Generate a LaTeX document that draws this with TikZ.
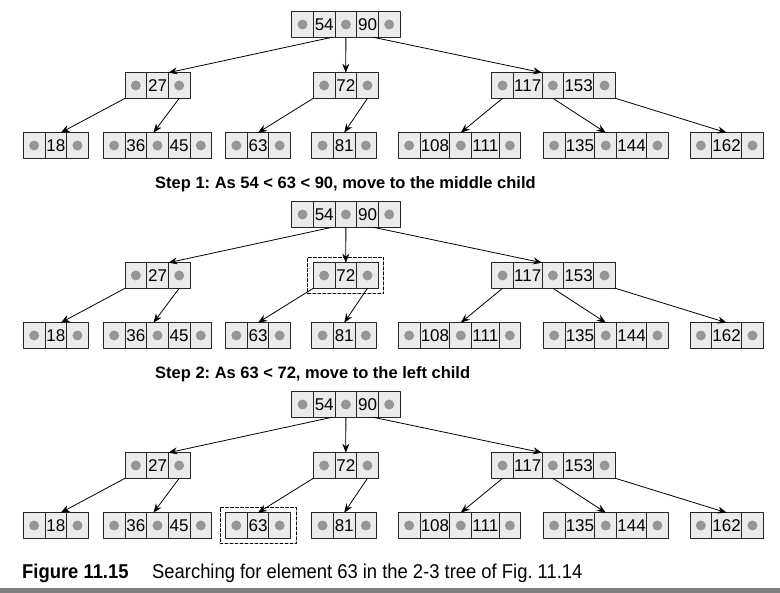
\documentclass[tikz,border=0pt]{standalone}
\usepackage{fontspec}
\setmainfont{Liberation Sans}
\newfontfamily\capfont[FakeStretch=0.92]{Liberation Sans}
\usepackage{tikz}
\usetikzlibrary{arrows.meta,positioning,fit}
\definecolor{cellfill}{RGB}{235,235,235}
\definecolor{dotgray}{RGB}{150,150,150}
\definecolor{rulegray}{RGB}{128,128,128}
\frenchspacing

\tikzset{
  cell/.style={draw=black!85, fill=cellfill, line width=0.9pt,
    minimum width=21.67pt, minimum height=25.6pt,
    inner xsep=0.8pt, inner ysep=0pt, outer sep=0pt,
    font=\fontsize{17}{19}\selectfont},
  ptr/.style={cell, path picture={\fill[dotgray] (path picture bounding box.center) circle (5pt);}},
  link/.style={-{Stealth[length=9pt,width=7pt]}, line width=0.8pt},
  hilite/.style={draw, dash pattern=on 3pt off 2pt, line width=0.9pt, inner sep=5.5pt},
  steptext/.style={font=\fontsize{16.5}{19}\selectfont\bfseries, inner sep=0pt},
}

% node with one key: name, left, top, key
\newcommand{\onekey}[4]{%
  \node[ptr, anchor=north west] (#1-p1) at (#2,#3) {};
  \node[cell, right=0pt of #1-p1] (#1-k1) {#4};
  \node[ptr, right=0pt of #1-k1] (#1-p2) {};
}
% node with two keys: name, left, top, key1, key2
\newcommand{\twokey}[5]{%
  \node[ptr, anchor=north west] (#1-p1) at (#2,#3) {};
  \node[cell, right=0pt of #1-p1] (#1-k1) {#4};
  \node[ptr, right=0pt of #1-k1] (#1-p2) {};
  \node[cell, right=0pt of #1-p2] (#1-k2) {#5};
  \node[ptr, right=0pt of #1-k2] (#1-p3) {};
}

\begin{document}
\begin{tikzpicture}[x=1pt, y=-1pt, line cap=round, line join=round]
  \useasboundingbox (0,0) rectangle (780,593);

  % three copies of the 2-3 tree
  \foreach \t/\dy in {a/0,b/190,c/380} {
    \begin{scope}[shift={(0,\dy)}]
      \twokey{\t-root}{291.7}{11.7}{54}{90}
      \onekey{\t-n27}{125}{72.7}{27}
      \onekey{\t-n72}{313.3}{72.7}{72}
      \twokey{\t-n117}{491.7}{72.7}{117}{153}
      \onekey{\t-l18}{23.3}{132.7}{18}
      \twokey{\t-l36}{103.3}{132.7}{36}{45}
      \onekey{\t-l63}{225.5}{132.7}{63}
      \onekey{\t-l81}{311.7}{132.7}{81}
      \twokey{\t-l108}{398.3}{132.7}{108}{111}
      \twokey{\t-l135}{543.3}{132.7}{135}{144}
      \onekey{\t-l162}{690}{132.7}{162}

      % child pointers
      \draw[link] ([xshift=-3pt]\t-root-k1.south east) -- (\t-n27-k1.north east);
      \draw[link] (\t-root-p2.south) -- (\t-n72-k1.north);
      \draw[link] ([xshift=-5pt]\t-root-k2.south east) -- (\t-n117-k1.north east);
      \draw[link] (\t-n27-p1.south west) -- ([xshift=5pt]\t-l18-k1.north);
      \draw[link] (\t-n27-p2.south) -- ([xshift=-4pt]\t-l36-p2.north);
      \draw[link] (\t-n72-p1.south west) -- (\t-l63-k1.north);
      \draw[link] (\t-n72-p2.south) -- (\t-l81-k1.north);
      \draw[link] (\t-n117-p1.south) -- (\t-l108-p2.north);
      \draw[link] (\t-n117-p2.south) -- (\t-l135-p2.north);
      \draw[link] (\t-n117-p3.south east) -- (\t-l162-k1.north);
    \end{scope}
  }

  % search path highlights
  \node[hilite, fit=(b-n72-p1)(b-n72-p2)] (find1) {};
  \node[hilite, fit=(c-l63-p1)(c-l63-p2)] (find2) {};

  % step captions
  \node[steptext, anchor=base west] (step1) at (155,188.5) {Step 1: As 54 < 63 < 90, move to the middle child};
  \node[steptext, anchor=base west] (step2) at (155,378.5) {Step 2: As 63 < 72, move to the left child};

  % figure caption
  \node[anchor=base west, inner sep=0pt, font=\fontsize{20}{23}\selectfont\capfont\bfseries] (fignum) at (22,579) {Figure 11.15};
  \node[anchor=base west, inner sep=0pt, font=\fontsize{20}{23}\selectfont\capfont] (figtext) at (152,579) {Searching for element 63 in the 2-3 tree of Fig. 11.14};
  \fill[rulegray] (0,588) rectangle (780,593);
\end{tikzpicture}
\end{document}
